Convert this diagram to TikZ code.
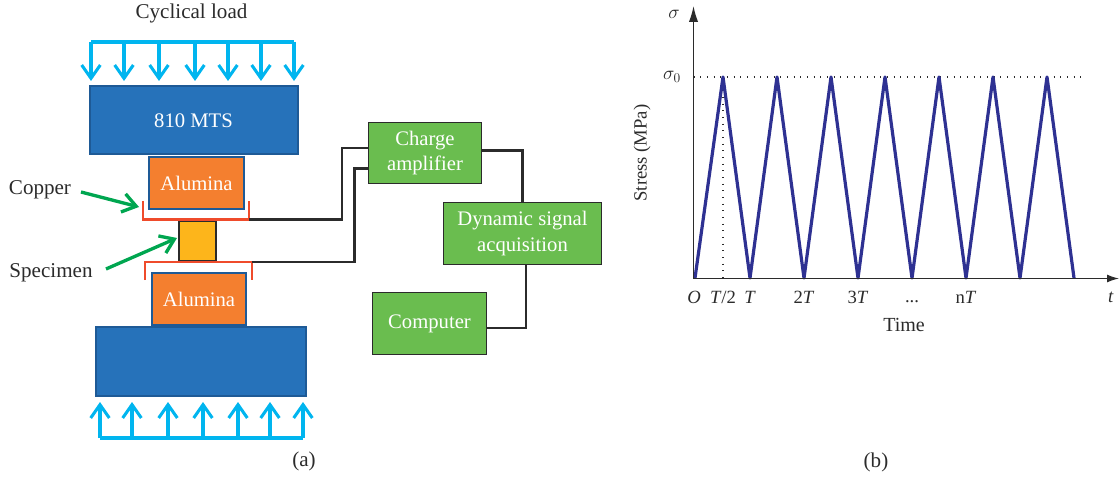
\documentclass[tikz,border=0pt]{standalone}
\usepackage{fontspec}
\usepackage{amsmath}
\setmainfont{Liberation Serif}
\usetikzlibrary{arrows.meta}
\definecolor{mtsblue}{HTML}{2672BA}
\definecolor{edgeblue}{HTML}{1E5A96}
\definecolor{aluminaorange}{HTML}{F47F2F}
\definecolor{specimenyellow}{HTML}{FDB51B}
\definecolor{boxgreen}{HTML}{6ABD4F}
\definecolor{loadcyan}{HTML}{00B5EF}
\definecolor{pointergreen}{HTML}{00A650}
\definecolor{copperred}{HTML}{EF4B2B}
\definecolor{stresspurple}{HTML}{2E3192}
\definecolor{inkgray}{HTML}{2B2B2B}
\tikzset{
	label text/.style={text=inkgray, font=\fontsize{15.8}{18}\selectfont, inner sep=0pt},
	axis text/.style={text=inkgray, font=\fontsize{14}{17}\selectfont, inner sep=0pt},
	white text/.style={text=white, font=\fontsize{15.5}{19}\selectfont, align=center, inner sep=0pt},
	mts box/.style={white text, draw=edgeblue, fill=mtsblue, line width=1.5pt, minimum width=156pt, minimum height=51pt},
	alumina box/.style={white text, draw=edgeblue, fill=aluminaorange, line width=1.5pt, minimum width=71pt},
	signal box/.style={white text, draw=inkgray, fill=boxgreen, line width=0.9pt},
	wire/.style={draw=inkgray, line width=1.9pt},
	copper/.style={draw=copperred, line width=1.9pt},
	load/.style={draw=loadcyan, line width=2.3pt},
	load arrow/.style={load, -{Straight Barb[length=10pt, width=14pt, line width=2.3pt]}},
	pointer/.style={draw=pointergreen, line width=2.5pt, -{Straight Barb[length=10pt, width=14pt, line width=2.5pt]}},
	dots/.style={draw=inkgray, line width=0.8pt, dash pattern=on 0.8pt off 4.2pt},
}

\begin{document}
\begin{tikzpicture}[x=0.75pt, y=-0.75pt]
	\useasboundingbox (0,0) rectangle (1119,477);

	\node[label text] (cyclical) at (191.5,13.5) {Cyclical load};

	% top load
	\coordinate (TL) at (91,42);
	\coordinate (TR) at (294,42);
	\draw[load] (TL) -- (TR);
	\coordinate (t1) at (91,81);
	\coordinate (t2) at (124,81);
	\coordinate (t3) at (159,81);
	\coordinate (t4) at (195,81);
	\coordinate (t5) at (228,81);
	\coordinate (t6) at (261,81);
	\coordinate (t7) at (294,81);
	\draw[load arrow] (TL) -- (t1);
	\draw[load arrow] (124,42) -- (t2);
	\draw[load arrow] (159,42) -- (t3);
	\draw[load arrow] (195,42) -- (t4);
	\draw[load arrow] (228,42) -- (t5);
	\draw[load arrow] (261,42) -- (t6);
	\draw[load arrow] (TR) -- (t7);

	% press and specimen
	\node[mts box] (mts) at (193.5,120.5) {810 MTS};
	\node[alumina box, minimum height=39pt] (alumina1) at (196.5,183) {Alumina};
	\node[draw=inkgray, fill=specimenyellow, line width=1.5pt, minimum width=28pt, minimum height=29.5pt, inner sep=0pt] (specimen) at (197.5,241) {};
	\node[alumina box, minimum height=39.5pt] (alumina2) at (199,299) {Alumina};
	\node[mts box, minimum height=52pt, minimum width=157pt] (base) at (201,361.5) {};

	% copper foils
	\coordinate (c1) at (143,201);
	\coordinate (c2) at (143,219.5);
	\coordinate (c3) at (249,219.5);
	\coordinate (c4) at (249,201);
	\draw[copper] (c1) -- (c2) -- (c3) -- (c4);
	\coordinate (d1) at (145,280);
	\coordinate (d2) at (145,262);
	\coordinate (d3) at (252,262);
	\coordinate (d4) at (252,280);
	\draw[copper] (d1) -- (d2) -- (d3) -- (d4);

	% bottom load
	\coordinate (BL) at (100,438);
	\coordinate (BR) at (303,438);
	\draw[load] (BL) -- (BR);
	\coordinate (b1) at (100,402);
	\coordinate (b2) at (132,402);
	\coordinate (b3) at (168,402);
	\coordinate (b4) at (203,402);
	\coordinate (b5) at (238,402);
	\coordinate (b6) at (270,402);
	\coordinate (b7) at (303,402);
	\draw[load arrow] (BL) -- (b1);
	\draw[load arrow] (132,438) -- (b2);
	\draw[load arrow] (168,438) -- (b3);
	\draw[load arrow] (203,438) -- (b4);
	\draw[load arrow] (238,438) -- (b5);
	\draw[load arrow] (270,438) -- (b6);
	\draw[load arrow] (BR) -- (b7);

	% labels on the left
	\node[label text] (copperlabel) at (40,190) {Copper};
	\node[label text] (specimenlabel) at (51,273) {Specimen};
	\coordinate (p1) at (81,192);
	\coordinate (q1) at (139,207);
	\coordinate (p2) at (106,269);
	\coordinate (q2) at (177,238);
	\draw[pointer] (p1) -- (q1);
	\draw[pointer] (p2) -- (q2);

	% signal chain
	\node[signal box, minimum width=85pt, minimum height=46pt] (amp) at (425,153) {Charge\\amplifier};
	\node[signal box, minimum width=119pt, minimum height=47pt] (dsa) at (522.5,233.5) {Dynamic signal\\acquisition};
	\node[signal box, minimum width=86pt, minimum height=47pt] (computer) at (429.5,323.5) {Computer};

	\coordinate (w1) at (342,219.5);
	\coordinate (w2) at (342,148);
	\coordinate (w3) at (354.5,262);
	\coordinate (w4) at (354.5,168.5);
	\coordinate (w5) at (526,265);
	\draw[wire] (c3) -- (w1) -- (w2) -- (w2 -| amp.west);
	\draw[wire] (d3) -- (w3) -- (w4) -- (w4 -| amp.west);
	\draw[wire] (amp.east |- 0,150.5) -| (dsa.north);
	\draw[wire] (computer.east |- 0,328) -| (w5);

	\node[label text] (capa) at (304,461) {(a)};

	% stress curve
	\coordinate (O) at (693.5,278.5);
	\coordinate (ytip) at (693.5,6);
	\coordinate (xtip) at (1119,278.5);
	\coordinate (s0) at (693.5,77);
	\coordinate (s1) at (1085,77);
	\coordinate (h) at (723,77);
	\draw[dots] (s0) -- (s1);
	\draw[dots] (h) -- (723,278);
	\draw[stresspurple, line width=2.4pt, line join=round] (695,278) -- (h) -- (750,278) -- (777,77) -- (804,278) -- (831,77) -- (858,278) -- (885,77) -- (912,278) -- (939,77) -- (966,278) -- (993,77) -- (1020,278) -- (1047,77) -- (1074,278);
	\draw[line width=1pt, draw=inkgray, -{Latex[length=12pt, width=7pt]}] (O) -- (ytip);
	\draw[line width=1pt, draw=inkgray, -{Latex[length=9pt, width=6pt]}] (O) -- (xtip);

	\node[axis text] (sigma) at (674,14) {$\sigma$};
	\node[axis text] (sigma0) at (672,77) {$\sigma_0$};
	\node[axis text, rotate=90] (stress) at (642,153) {Stress (MPa)};
	\node[axis text] (originlabel) at (694,297) {\textit{O}};
	\node[axis text] (halflabel) at (723,297) {\textit{T}/2};
	\node[axis text] (Tlabel) at (750,297) {\textit{T}};
	\node[axis text] (Tlabel2) at (804,297) {2\textit{T}};
	\node[axis text] (Tlabel3) at (858,297) {3\textit{T}};
	\node[axis text] (dotslabel) at (912,302) {...};
	\node[axis text] (Tlabeln) at (966,297) {n\textit{T}};
	\node[axis text] (tlabel) at (1111,297) {\textit{t}};
	\node[axis text, font=\fontsize{15}{18}\selectfont] (timelabel) at (904,325) {Time};
	\node[label text] (capb) at (876,462) {(b)};
\end{tikzpicture}
\end{document}
